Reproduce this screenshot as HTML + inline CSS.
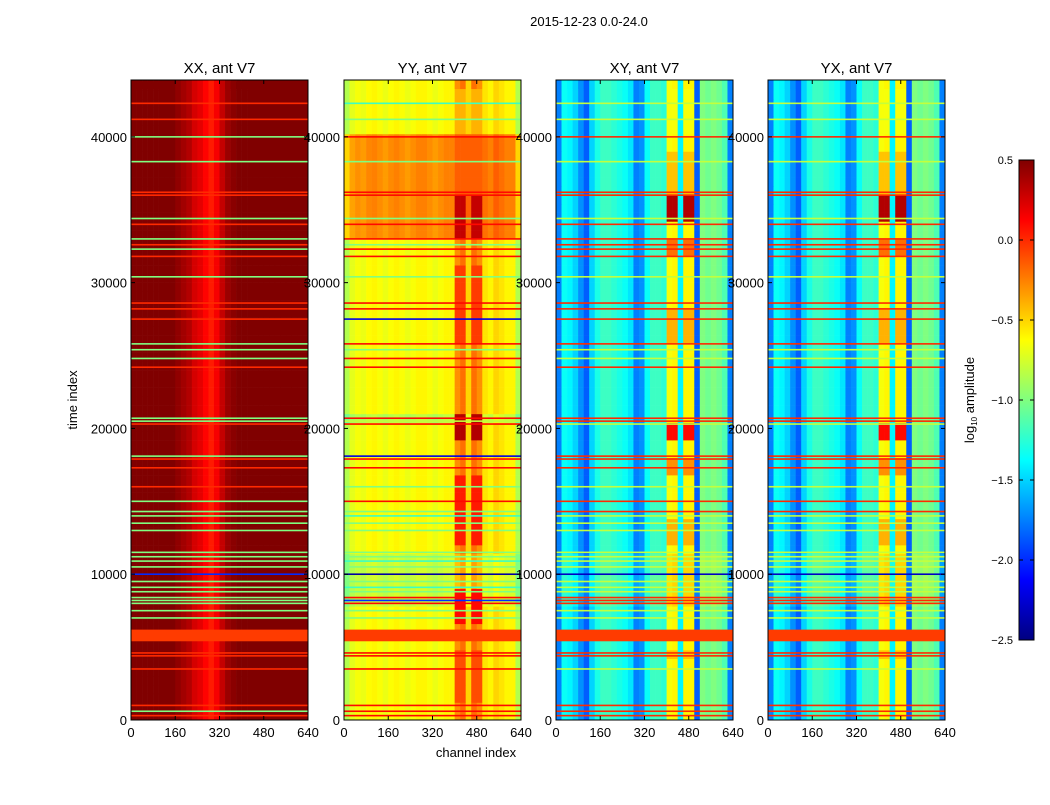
<!DOCTYPE html>
<html><head><meta charset="utf-8">
<style>
body{margin:0;background:#fff;font-family:"Liberation Sans",sans-serif;}
svg text{font-family:"Liberation Sans",sans-serif;}
</style></head>
<body>
<svg id="chart" width="1050" height="800" viewBox="0 0 1050 800" xmlns="http://www.w3.org/2000/svg">
<rect width="1050" height="800" fill="#fff"/>
<text x="589" y="26" font-size="13" text-anchor="middle">2015-12-23 0.0-24.0</text>
<text x="77" y="400" font-size="13" text-anchor="middle" transform="rotate(-90 77 400)">time index</text>
<text x="476" y="757" font-size="13" text-anchor="middle">channel index</text>
<g id="panels"></g>
<g id="cbar"></g>
<text x="974" y="400" font-size="13" text-anchor="middle" transform="rotate(-90 974 400)">log<tspan font-size="8" dy="3">10</tspan><tspan dy="-3"> amplitude</tspan></text>
</svg>
<script>
// ---- data ----
const panelTitles = ["XX, ant V7","YY, ant V7","XY, ant V7","YX, ant V7"];
const xTicks = [0,160,320,480,640];
const yTicks = [0,10000,20000,30000,40000];
const cbarTicks = [0.5,0.0,-0.5,-1.0,-1.5,-2.0,-2.5];
// channel profiles, 32 bins of 20 channels
const profXX = [0.5,0.5,0.5,0.5,0.5,0.5,0.5,0.5,0.45,0.4,0.35,0.25,0.2,0.12,0.05,0.15,0.3,0.42,0.47,0.5,0.5,0.5,0.5,0.5,0.5,0.5,0.5,0.5,0.5,0.5,0.5,0.5];
const profYY = [-0.85,-0.7,-0.65,-0.68,-0.62,-0.6,-0.64,-0.68,-0.63,-0.6,-0.64,-0.68,-0.64,-0.6,-0.6,-0.64,-0.68,-0.64,-0.6,-0.6,-0.3,-0.2,-0.5,-0.2,-0.3,-0.55,-0.6,-0.5,-0.55,-0.6,-0.6,-0.85];
const profXY = [-1.75,-1.35,-1.4,-1.5,-1.7,-1.85,-1.5,-1.3,-1.2,-1.2,-1.25,-1.3,-1.35,-1.45,-1.75,-1.7,-1.35,-1.2,-1.2,-1.25,-0.65,-0.6,-1.4,-0.6,-0.6,-1.85,-1.0,-1.05,-1.0,-1.05,-1.15,-1.75];
const profYX = [-1.75,-1.35,-1.4,-1.5,-1.7,-1.85,-1.5,-1.3,-1.2,-1.2,-1.25,-1.3,-1.35,-1.45,-1.75,-1.7,-1.35,-1.2,-1.2,-1.25,-0.65,-0.6,-1.4,-0.6,-0.6,-1.85,-1.0,-1.05,-1.0,-1.05,-1.15,-1.75];
// time segments [start, end, shift]
const shiftYY = [[33000,40000,0.35],[20500,21000,-0.2],[8000,11500,-0.15]];
const shiftXY = [[8000,11500,0.1]];
// hot-region segments [start, end, value] for channels 400-500
const hotYY = [[40000,43800,-0.4],[36000,40000,-0.15],[33000,36000,0.3],[26000,31000,-0.05],[19000,21000,0.35],[12000,17000,0.05],[6500,9000,0.1],[1000,5000,-0.1]];
const hotXY = [[40000,43800,-0.65],[36000,39000,-0.45],[34000,36000,0.35],[32000,33000,-0.2],[26000,28000,-0.4],[19000,20500,0.1],[17000,18000,-0.3],[12000,14000,-0.4],[4000,5000,-0.45]];
// flagged rows: times and per-panel values
const flagTimes = [42300,41200,40000,38300,36200,36000,34400,34000,33000,32600,32300,31800,30400,28600,28200,27500,25800,25400,24800,24200,20700,20500,20300,18100,17900,17300,16000,15000,14300,14000,13500,13000,11500,11200,10900,10500,10000,9500,9100,8800,8400,8200,8000,7500,7000,4600,4400,3500,1000,600,300];
const flagXX = [0,0,-1,-1,0,0,-1,0,-1,0,-1,0,-1,0,0,0,-1,-1,-1,0,-1,-1,0,-1,0,0,0,-1,-1,-1,-1,-1,-1,-1,-1,-1,-2,-1,-1,-1,-1,-1,-1,-1,-1,0,0,0,0,-1,0];
const flagYY = [-1.2,-1.0,0.1,-1.0,0.1,0.1,-1.0,0.1,0.1,-1.0,0.1,0.1,-1.0,0.1,0.1,-2.2,0.1,-1.0,0.1,0.1,0.1,-0.8,0.1,-2.2,0.1,0.1,-1.0,0.1,-1.0,-1.2,-1.0,-1.0,-1.0,-1.0,-1.2,-1.0,-2.4,-1.0,-1.2,-1.0,0.1,-2.0,0.1,-1.0,-1.0,0.1,0.1,0.1,0.1,0.1,0.1];
const flagXY = [-0.8,-0.8,0.0,-0.8,0.0,0.0,-0.8,0.0,0.0,0.0,0.0,0.0,-0.8,0.0,0.0,0.0,0.0,-0.8,-0.8,0.0,0.0,0.0,-0.8,0.0,0.0,0.0,-0.8,0.0,0.0,-0.8,-0.8,-0.8,-0.8,-0.8,-0.8,-0.8,-2.3,-0.8,-0.8,-0.8,0.0,0.0,0.0,-0.8,-0.8,0.0,0.0,-0.8,0.0,0.0,0.0];
const bandStart = [5400], bandEnd = [6200], bandVal = [-0.05];

// ---- layout ----
const lefts = [131,344,556,768], pw = 177, pTop = 80, pBot = 720, tMax = 43900, cMax = 640;
const profiles = [profXX,profYY,profXY,profYX];
const shifts = [[],shiftYY,shiftXY,shiftXY];
const hots = [null,hotYY,hotXY,hotXY];
const flags = [flagXX,flagYY,flagXY,flagXY];
const NS = "http://www.w3.org/2000/svg";
function jet(v){
  let x=(v+2.5)/3; x=Math.max(0,Math.min(1,x));
  const c=t=>Math.round(255*Math.max(0,Math.min(1,1.5-Math.abs(4*x-t))));
  return `rgb(${c(3)},${c(2)},${c(1)})`;
}
function seg(list,t,def){for(const s of list){if(t>=s[0]&&t<s[1])return s[2];}return def;}
function mk(tag,attrs,parent){const e=document.createElementNS(NS,tag);for(const k in attrs)e.setAttribute(k,attrs[k]);parent.appendChild(e);return e;}
const root=document.getElementById('panels');
for(let p=0;p<4;p++){
  const L=lefts[p];
  const xs=c=>L+c/cMax*pw, ys=t=>pBot-t/tMax*(pBot-pTop);
  const g=mk('g',{},root);
  
  
  const prof=profiles[p], step=600;
  for(let t=0;t<tMax;t+=step){
    const sh=seg(shifts[p],t+300,0);
    for(let c=0;c<prof.length;c++){
      const ch=c*20;
      let v=prof[c]+sh;
      if(hots[p] && ch>=400 && ch<500 && !(ch>=440&&ch<460)){
        v = seg(hots[p],t+300,v);
      }
      const r=mk('rect',{x:xs(ch).toFixed(2),y:ys(Math.min(t+step,tMax)).toFixed(2),width:(pw/32+0.3).toFixed(2),height:((pBot-pTop)*step/tMax+0.3).toFixed(2),fill:jet(v)},g);
      
      
    }
  }
  for(let i=0;i<flagTimes.length;i++){
    const l=mk('rect',{x:L,y:(ys(flagTimes[i])-0.8).toFixed(2),width:pw,height:1.6,fill:jet(flags[p][i])},g);
    
    
  }
  for(let i=0;i<bandStart.length;i++){
    const b=mk('rect',{x:L,y:ys(bandEnd[i]),width:pw,height:ys(bandStart[i])-ys(bandEnd[i]),fill:jet(bandVal[i])},g);
    
    
  }
  const fr=mk('rect',{x:L,y:pTop,width:pw,height:pBot-pTop,fill:'none',stroke:'#000','stroke-width':1},g);
  
  
  const ti=mk('text',{x:L+pw/2,y:pTop-7,'font-size':15,'text-anchor':'middle'},g);ti.textContent=panelTitles[p];
  
  
  for(const xt of xTicks){
    const x=xs(xt);
    mk('line',{x1:x,x2:x,y1:pBot,y2:pBot-4,stroke:'#000'},g);
    mk('line',{x1:x,x2:x,y1:pTop,y2:pTop+4,stroke:'#000'},g);
    const tx=mk('text',{x:x,y:pBot+17,'font-size':13,'text-anchor':'middle'},g);tx.textContent=xt;
    
    
  }
  for(const yt of yTicks){
    const y=ys(yt);
    mk('line',{x1:L,x2:L+4,y1:y,y2:y,stroke:'#000'},g);
    mk('line',{x1:L+pw,x2:L+pw-4,y1:y,y2:y,stroke:'#000'},g);
    const ty=mk('text',{x:L-4,y:y+5,'font-size':13,'text-anchor':'end'},g);ty.textContent=yt;
    
    
  }
}
// colorbar
const cb=document.getElementById('cbar');
const cbTop=160,cbBot=640,cbX=1019,cbW=15;
const defs=mk('defs',{},cb);
const gr=mk('linearGradient',{id:'jetg',x1:0,y1:1,x2:0,y2:0},defs);
for(let i=0;i<=24;i++){mk('stop',{offset:i/24,'stop-color':jet(-2.5+3*i/24)},gr);}
mk('rect',{x:cbX,y:cbTop,width:cbW,height:cbBot-cbTop,fill:'url(#jetg)',stroke:'#000'},cb);
for(const v of cbarTicks){
  const y=cbBot-(v+2.5)/3*(cbBot-cbTop);
  mk('line',{x1:cbX+cbW-4,x2:cbX+cbW,y1:y,y2:y,stroke:'#000'},cb);
  mk('line',{x1:cbX,x2:cbX+4,y1:y,y2:y,stroke:'#000'},cb);
  const t=mk('text',{x:cbX-6,y:y+4,'font-size':11,'text-anchor':'end'},cb);
  t.textContent=(v>=0?v.toFixed(1):'\u2212'+Math.abs(v).toFixed(1));
  
  
}
</script>
</body></html>
